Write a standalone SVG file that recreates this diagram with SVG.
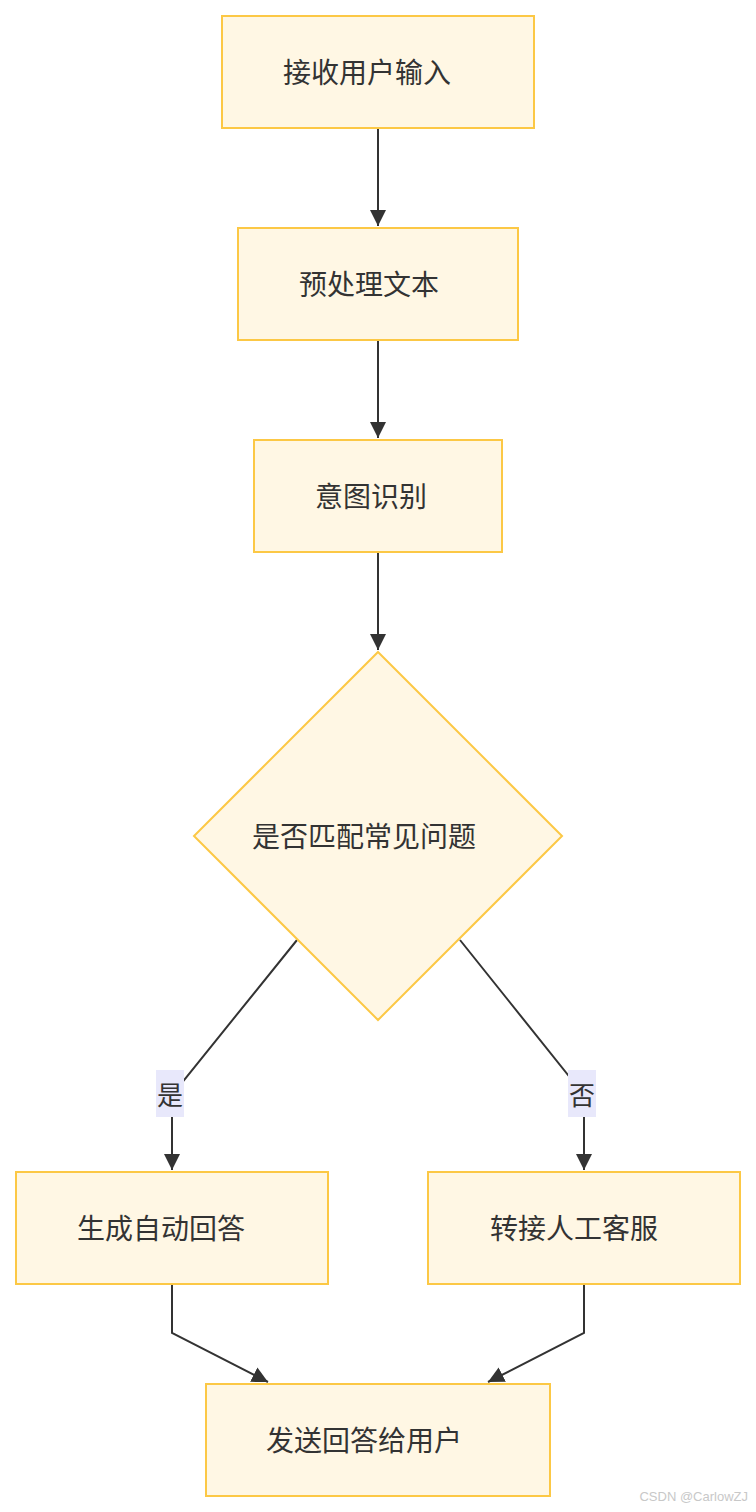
<svg xmlns="http://www.w3.org/2000/svg" width="756" height="1512" viewBox="0 0 756 1512">
<style>
.node{fill:#fff7e4;stroke:#fcc845;stroke-width:2}
.lbl{font-family:"Noto Sans CJK SC","Liberation Sans",sans-serif;font-size:28px;fill:#333;text-anchor:middle;dominant-baseline:central}
.edge{fill:none;stroke:#333;stroke-width:2}
.eb{fill:#e8e8fb}
.el{font-family:"Noto Sans CJK SC","Liberation Sans",sans-serif;font-size:26px;fill:#333;text-anchor:middle;dominant-baseline:central}
</style>
<defs>
<marker id="arr" markerUnits="userSpaceOnUse" markerWidth="18" markerHeight="18" viewBox="0 0 18 18" refX="16" refY="9" orient="auto">
<path d="M0,1 L16,9 L0,17 Z" fill="#333"/>
</marker>
</defs>
<rect width="756" height="1512" fill="#fff"/>
<g id="connectors">
<path class="edge" d="M378,128 V226" marker-end="url(#arr)"/>
<path class="edge" d="M378,340 V438" marker-end="url(#arr)"/>
<path class="edge" d="M378,552 V600 Q378,610 378,620 V650" marker-end="url(#arr)"/>
<path class="edge" d="M297,940 L172,1095 V1170" marker-end="url(#arr)"/>
<path class="edge" d="M460,940 L584,1095 V1170" marker-end="url(#arr)"/>
<path class="edge" d="M172,1284 V1333 L268,1382" marker-end="url(#arr)"/>
<path class="edge" d="M584,1284 V1333 L488,1382" marker-end="url(#arr)"/>
<g id="label-yes"><rect class="eb" x="156" y="1070" width="28" height="47"/><text class="el" x="170" y="1093">是</text></g>
<g id="label-no"><rect class="eb" x="568" y="1070" width="28" height="47"/><text class="el" x="582" y="1093">否</text></g>
</g>
<g id="n1"><rect class="node" x="222" y="16" width="312" height="112"/><text class="lbl" x="367" y="71">接收用户输入</text></g>
<g id="n2"><rect class="node" x="238" y="228" width="280" height="112"/><text class="lbl" x="369" y="283">预处理文本</text></g>
<g id="n3"><rect class="node" x="254" y="440" width="248" height="112"/><text class="lbl" x="371" y="495">意图识别</text></g>
<g id="n4"><polygon class="node" points="378,652 562,836 378,1020 194,836"/><text class="lbl" x="364" y="835">是否匹配常见问题</text></g>
<g id="n5"><rect class="node" x="16" y="1172" width="312" height="112"/><text class="lbl" x="161" y="1227">生成自动回答</text></g>
<g id="n6"><rect class="node" x="428" y="1172" width="312" height="112"/><text class="lbl" x="574" y="1227">转接人工客服</text></g>
<g id="n7"><rect class="node" x="206" y="1384" width="344" height="112"/><text class="lbl" x="364" y="1439">发送回答给用户</text></g>
<text x="748" y="1501" font-family="'Liberation Sans',sans-serif" font-size="13" fill="#c8c8c8" text-anchor="end">CSDN @CarlowZJ</text>
</svg>
